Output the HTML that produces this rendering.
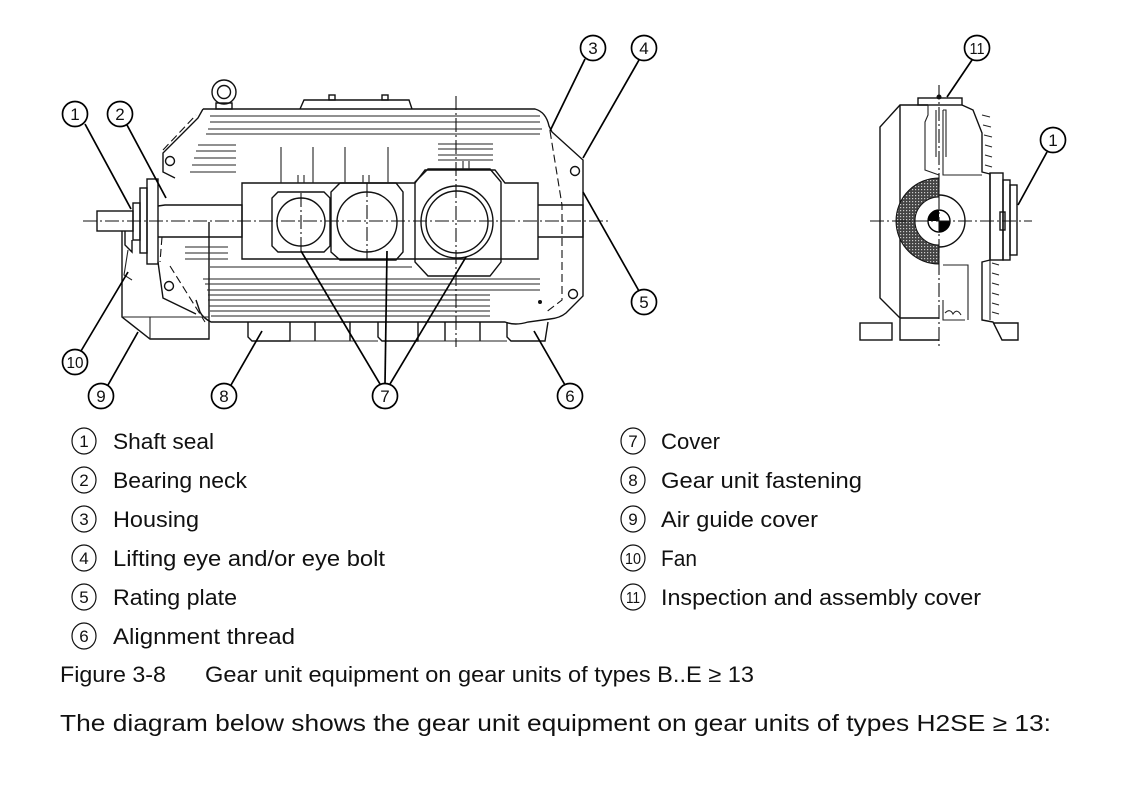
<!DOCTYPE html>
<html><head><meta charset="utf-8"><style>
html,body{margin:0;padding:0;background:#fff;}
svg{display:block;}
text{font-family:"Liberation Sans",sans-serif;fill:#111;}
.d{fill:none;stroke:#111;stroke-width:1.4;}
.t{fill:none;stroke:#222;stroke-width:1.1;}
.c{fill:#fff;stroke:#000;stroke-width:1.7;}
.l{stroke:#000;stroke-width:1.7;fill:none;}
.cl{fill:none;stroke:#111;stroke-width:1.1;stroke-dasharray:14 3 2 3;}
.dash{fill:none;stroke:#111;stroke-width:1.1;stroke-dasharray:8 4;}
.n{font-size:17px;text-anchor:middle;}
.lg{font-size:22px;}
</style></head><body>
<svg width="1139" height="791" viewBox="0 0 1139 791" xmlns="http://www.w3.org/2000/svg">
<defs>
<pattern id="h" width="3" height="3" patternUnits="userSpaceOnUse">
<rect width="3" height="3" fill="#444"/><rect x="0" y="0" width="1.2" height="1.2" fill="#ccc"/>
</pattern>
</defs>

<!-- MAIN VIEW -->
<circle cx="224" cy="92" r="12" class="d"/><circle cx="224" cy="92" r="6.5" class="d"/>
<rect x="216" y="103" width="16" height="6" class="d"/>
<polyline points="300,109 304,100 409,100 412,109" class="d"/>
<rect x="329" y="95" width="6" height="5" class="d"/><rect x="382" y="95" width="6" height="5" class="d"/>
<path d="M203,109 L535,109 Q546,112 549,126 L552,132 L583,160 L583,296 L566,313 Q560,318 550,319 L528,322 Q515,326 505,322 L211,322 Q203,318 200,312 L196,300" class="d"/>
<path d="M203,109 L198,118 L163,153 L163,172 L175,178" class="d"/>
<circle cx="170" cy="161" r="4.5" class="d"/>
<circle cx="169" cy="286" r="4.5" class="d"/>
<path d="M158,262 L163,298 L196,314" class="d"/>
<path d="M170,266 L205,322" class="dash"/>
<path d="M163,150 L196,115" class="dash"/>
<circle cx="575" cy="171" r="4.5" class="d"/>
<circle cx="573" cy="294" r="4.5" class="d"/>
<path d="M550,131 L562,205 L562,300 L545,313" class="dash"/>
<rect x="147" y="179" width="11" height="85" class="d"/>
<rect x="140" y="188" width="7" height="65" class="d"/>
<rect x="133" y="203" width="7" height="37" class="d"/>
<rect x="97" y="211" width="36" height="20" class="d"/>
<path d="M125,231 L125,245 L132,252 L132,240" class="d"/>
<path d="M128,250 L124,275 L132,280" class="t"/>
<path d="M158,206 L165,205 L242,205 L242,237 L158,237" class="d"/>
<path d="M162,237 L160,262" class="dash"/>
<path d="M538,205 L583,205 L583,237 L538,237" class="d"/>
<path d="M122,231 L122,317 L150,339 L209,339 L209,222" class="d"/>
<line x1="150" y1="317" x2="150" y2="339" class="t"/>
<line x1="122" y1="317" x2="209" y2="317" class="t"/>
<path d="M242,183 L415,183 L425,170 L495,170 L505,183 L538,183 L538,259 L242,259 Z" class="d"/>
<polygon points="278,192 324,192 330,198 330,246 324,252 278,252 272,246 272,198" class="d"/>
<circle cx="301" cy="222" r="24" class="d"/>
<polygon points="340,183 396,183 403,192 403,252 396,260 340,260 331,252 331,192" class="d"/>
<circle cx="367" cy="222" r="30" class="d"/>
<polygon points="428,169 490,169 501,182 501,262 490,276 428,276 415,262 415,182" class="d"/>
<circle cx="457" cy="222" r="36" class="d"/>
<circle cx="457" cy="222" r="31" class="d"/>
<path d="M248,322 L248,337 L252,341 L290,341 L290,322 M315,322 L315,341 M350,322 L350,341 M378,322 L378,337 L382,341 L418,341 L418,322 M445,322 L445,341 M480,322 L480,341 M507,322 L507,337 L511,341 L545,341 L548,322" class="d"/>
<line x1="290" y1="341" x2="378" y2="341" class="t"/>
<line x1="418" y1="341" x2="507" y2="341" class="t"/>
<circle cx="540" cy="302" r="2" fill="#111"/>
<g class="t">
<line x1="210" y1="116" x2="540" y2="116"/><line x1="210" y1="122" x2="540" y2="122"/>
<line x1="208" y1="129" x2="542" y2="129"/><line x1="206" y1="134" x2="540" y2="134"/>
<line x1="198" y1="145" x2="236" y2="145"/><line x1="196" y1="151" x2="236" y2="151"/>
<line x1="194" y1="158" x2="236" y2="158"/><line x1="192" y1="165" x2="236" y2="165"/>
<line x1="190" y1="172" x2="236" y2="172"/>
<line x1="438" y1="144" x2="493" y2="144"/><line x1="438" y1="149" x2="493" y2="149"/>
<line x1="438" y1="155" x2="493" y2="155"/><line x1="438" y1="160" x2="493" y2="160"/>
<line x1="281" y1="147" x2="281" y2="183"/><line x1="313" y1="147" x2="313" y2="183"/>
<line x1="345" y1="147" x2="345" y2="183"/><line x1="388" y1="147" x2="388" y2="183"/>
<line x1="298" y1="175" x2="298" y2="183"/><line x1="304" y1="175" x2="304" y2="183"/>
<line x1="363" y1="175" x2="363" y2="183"/><line x1="369" y1="175" x2="369" y2="183"/>
<line x1="463" y1="161" x2="463" y2="169"/><line x1="469" y1="161" x2="469" y2="169"/>
<line x1="185" y1="247" x2="228" y2="247"/><line x1="185" y1="253" x2="228" y2="253"/>
<line x1="185" y1="259" x2="228" y2="259"/>
<line x1="210" y1="267" x2="412" y2="267"/>
<line x1="203" y1="279" x2="540" y2="279"/><line x1="205" y1="284" x2="540" y2="284"/>
<line x1="207" y1="290" x2="540" y2="290"/><line x1="208" y1="295" x2="490" y2="295"/>
<line x1="208" y1="300" x2="490" y2="300"/><line x1="209" y1="306" x2="490" y2="306"/>
<line x1="210" y1="311" x2="490" y2="311"/><line x1="211" y1="316" x2="490" y2="316"/>
</g>
<line x1="83" y1="221" x2="609" y2="221" class="cl"/>
<line x1="456" y1="96" x2="456" y2="347" class="cl"/>
<line x1="301" y1="193" x2="301" y2="252" class="cl"/>
<line x1="367" y1="183" x2="367" y2="260" class="cl"/>

<g class="l">
<line x1="85" y1="124" x2="131" y2="209"/>
<line x1="127" y1="125" x2="166" y2="198"/>
<line x1="585" y1="59" x2="550" y2="131"/>
<line x1="639" y1="60" x2="583" y2="158"/>
<line x1="639" y1="291" x2="583" y2="192"/>
<line x1="565" y1="385" x2="534" y2="331"/>
<line x1="380" y1="384" x2="301" y2="251"/>
<line x1="385" y1="384" x2="387" y2="251"/>
<line x1="390" y1="384" x2="466" y2="257"/>
<line x1="231" y1="385" x2="262" y2="331"/>
<line x1="108" y1="385" x2="138" y2="332"/>
<line x1="81" y1="351" x2="128" y2="272"/>
</g>
<g>
<circle cx="75" cy="114" r="12.5" class="c"/><text x="75" y="120" class="n">1</text>
<circle cx="120" cy="114" r="12.5" class="c"/><text x="120" y="120" class="n">2</text>
<circle cx="593" cy="48" r="12.5" class="c"/><text x="593" y="54" class="n">3</text>
<circle cx="644" cy="48" r="12.5" class="c"/><text x="644" y="54" class="n">4</text>
<circle cx="644" cy="302" r="12.5" class="c"/><text x="644" y="308" class="n">5</text>
<circle cx="570" cy="396" r="12.5" class="c"/><text x="570" y="402" class="n">6</text>
<circle cx="385" cy="396" r="12.5" class="c"/><text x="385" y="402" class="n">7</text>
<circle cx="224" cy="396" r="12.5" class="c"/><text x="224" y="402" class="n">8</text>
<circle cx="101" cy="396" r="12.5" class="c"/><text x="101" y="402" class="n">9</text>
<circle cx="75" cy="362" r="12.5" class="c"/><text x="75" y="368" class="n" style="font-size:16px" textLength="17" lengthAdjust="spacingAndGlyphs">10</text>
</g>

<!-- SIDE VIEW -->
<path d="M928,105 L900,105 L880,127 L880,298 L900,318 L900,340 L939,340" class="d"/>
<line x1="900" y1="105" x2="900" y2="318" class="d"/>
<line x1="900" y1="318" x2="939" y2="318" class="d"/>
<rect x="860" y="323" width="32" height="17" class="d"/>
<rect x="918" y="98" width="44" height="7" class="d"/>
<circle cx="939" cy="97" r="2.5" fill="#111"/>
<path d="M962,105 L973,110 L982,133 L982,172 L990,174 L990,260 L982,262 L982,320 L993,322 L1002,340 L1018,340 L1018,323 L993,323" class="d"/>
<path d="M928,105 L928,115 L925,122 L925,170 L939,175" class="t"/>
<path d="M943,110 L943,175 L982,175 M943,110 L946,110 L946,157 M936,110 L936,157" class="t"/>
<path d="M943,265 L968,265 L968,320 M943,300 L943,320 L965,320" class="t"/>
<path d="M945,313 Q950,308 953,314 Q957,308 961,315" class="t"/>
<g class="t">
<line x1="982" y1="115" x2="990" y2="117"/><line x1="983" y1="125" x2="991" y2="127"/>
<line x1="984" y1="135" x2="992" y2="137"/><line x1="985" y1="145" x2="992" y2="147"/>
<line x1="985" y1="155" x2="992" y2="157"/><line x1="985" y1="165" x2="992" y2="167"/>
<line x1="992" y1="263" x2="999" y2="265"/><line x1="992" y1="273" x2="999" y2="275"/>
<line x1="992" y1="283" x2="999" y2="285"/><line x1="992" y1="293" x2="999" y2="295"/>
<line x1="992" y1="303" x2="999" y2="305"/><line x1="992" y1="312" x2="999" y2="314"/>
<line x1="990" y1="260" x2="990" y2="320"/>
</g>
<rect x="990" y="173" width="13" height="87" class="d"/>
<rect x="1003" y="180" width="7" height="80" class="d"/>
<rect x="1010" y="185" width="7" height="70" class="d"/>
<rect x="1000" y="212" width="5" height="18" class="d"/>
<path d="M939,178 A43,43 0 0 0 939,264 L939,245 A24,24 0 0 1 939,197 Z" fill="url(#h)" stroke="#111" stroke-width="1"/>
<path d="M939,195 A26,26 0 0 1 939,247" class="d"/>
<circle cx="939" cy="221" r="11" fill="#fff" stroke="#000" stroke-width="1.4"/>
<path d="M939,221 L939,210 A11,11 0 0 0 928,221 Z" fill="#000"/>
<path d="M939,221 L939,232 A11,11 0 0 0 950,221 Z" fill="#000"/>
<line x1="939" y1="85" x2="939" y2="348" class="cl"/>
<line x1="870" y1="221" x2="1032" y2="221" class="cl"/>
<line x1="972" y1="60" x2="947" y2="97" class="l"/>
<line x1="1047" y1="152" x2="1018" y2="205" class="l"/>
<circle cx="977" cy="48" r="12.5" class="c"/><text x="977" y="54" class="n" style="font-size:16px" textLength="15" lengthAdjust="spacingAndGlyphs">11</text>
<circle cx="1053" cy="140" r="12.5" class="c"/><text x="1053" y="146" class="n">1</text>

<!-- LEGEND -->
<g fill="none" stroke="#111" stroke-width="1.2">
<ellipse cx="84" cy="441" rx="12" ry="13"/><ellipse cx="84" cy="480" rx="12" ry="13"/>
<ellipse cx="84" cy="519" rx="12" ry="13"/><ellipse cx="84" cy="558" rx="12" ry="13"/>
<ellipse cx="84" cy="597" rx="12" ry="13"/><ellipse cx="84" cy="636" rx="12" ry="13"/>
<ellipse cx="633" cy="441" rx="12" ry="13"/><ellipse cx="633" cy="480" rx="12" ry="13"/>
<ellipse cx="633" cy="519" rx="12" ry="13"/><ellipse cx="633" cy="558" rx="12" ry="13"/>
<ellipse cx="633" cy="597" rx="12" ry="13"/>
</g>
<g>
<text x="84" y="447" class="n">1</text><text x="84" y="486" class="n">2</text>
<text x="84" y="525" class="n">3</text><text x="84" y="564" class="n">4</text>
<text x="84" y="603" class="n">5</text><text x="84" y="642" class="n">6</text>
<text x="633" y="447" class="n">7</text><text x="633" y="486" class="n">8</text>
<text x="633" y="525" class="n">9</text>
<text x="633" y="564" class="n" style="font-size:16px" textLength="16" lengthAdjust="spacingAndGlyphs">10</text>
<text x="633" y="603" class="n" style="font-size:16px" textLength="14" lengthAdjust="spacingAndGlyphs">11</text>
</g>
<g class="lg">
<text x="113" y="449" textLength="101" lengthAdjust="spacingAndGlyphs">Shaft seal</text>
<text x="113" y="488" textLength="134" lengthAdjust="spacingAndGlyphs">Bearing neck</text>
<text x="113" y="527" textLength="86" lengthAdjust="spacingAndGlyphs">Housing</text>
<text x="113" y="566" textLength="272" lengthAdjust="spacingAndGlyphs">Lifting eye and/or eye bolt</text>
<text x="113" y="605" textLength="124" lengthAdjust="spacingAndGlyphs">Rating plate</text>
<text x="113" y="644" textLength="182" lengthAdjust="spacingAndGlyphs">Alignment thread</text>
<text x="661" y="449" textLength="59" lengthAdjust="spacingAndGlyphs">Cover</text>
<text x="661" y="488" textLength="201" lengthAdjust="spacingAndGlyphs">Gear unit fastening</text>
<text x="661" y="527" textLength="157" lengthAdjust="spacingAndGlyphs">Air guide cover</text>
<text x="661" y="566" textLength="36" lengthAdjust="spacingAndGlyphs">Fan</text>
<text x="661" y="605" textLength="320" lengthAdjust="spacingAndGlyphs">Inspection and assembly cover</text>
<text x="60" y="682" textLength="106" lengthAdjust="spacingAndGlyphs">Figure 3-8</text>
<text x="205" y="682" textLength="549" lengthAdjust="spacingAndGlyphs">Gear unit equipment on gear units of types B..E ≥ 13</text>
<text x="60" y="731" style="font-size:23px" textLength="991" lengthAdjust="spacingAndGlyphs">The diagram below shows the gear unit equipment on gear units of types H2SE ≥ 13:</text>
</g>
</svg>
</body></html>
